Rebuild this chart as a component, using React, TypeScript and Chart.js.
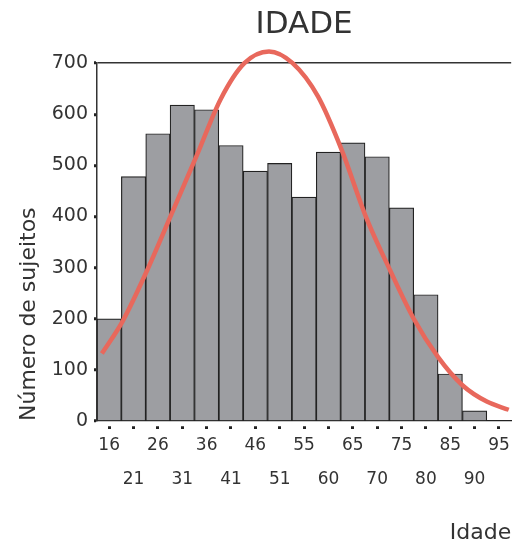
import React, { useEffect, useRef } from "react";
import { Chart, registerables } from "chart.js";

Chart.register(...registerables);

// Age bins (x tick labels)
const ageLabels = ["16", "21", "26", "31", "36", "41", "46", "51", "55", "60", "65", "70", "75", "80", "85", "90", "95"];
// Number of subjects per bin
const counts = [200, 478, 562, 618, 609, 539, 489, 504, 438, 526, 544, 517, 417, 247, 92, 20, 0];
// Fitted normal curve (x in bin units from the left edge)
const curveX = [0.2, 1.05, 2.07, 3.07, 4.1, 5.08, 6.05, 7.06, 8.03, 9.07, 10.03, 11.06, 12.02, 13.0, 14.0, 15.0, 16.0, 16.9];
const curveY = [132, 195, 296, 406, 520, 630, 700, 723, 700, 635, 532, 397, 296, 200, 125, 70, 38, 22];
const yTicks = [0, 100, 200, 300, 400, 500, 600, 700];

const FONT = "'DejaVu Sans', sans-serif";
const TEXT = "#333333";

export default function App() {
  const ref = useRef<HTMLCanvasElement | null>(null);

  useEffect(() => {
    const canvas = ref.current;
    if (!canvas) return;
    const chart = new Chart(canvas, {
      type: "bar",
      data: {
        labels: ageLabels,
        datasets: [
          {
            type: "line",
            data: curveX.map((x, i) => ({ x, y: curveY[i] })),
            xAxisID: "xl",
            yAxisID: "y",
            borderColor: "#e8685c",
            borderWidth: 4.5,
            pointRadius: 0,
            tension: 0.4,
            cubicInterpolationMode: "monotone",
            clip: false,
            order: 0,
          } as any,
          {
            type: "bar",
            data: counts,
            xAxisID: "x",
            yAxisID: "y",
            backgroundColor: "#9d9ea2",
            borderColor: "#222222",
            borderWidth: 1.2,
            barPercentage: 1,
            categoryPercentage: 1,
            grouped: false,
            order: 1,
          } as any,
        ],
      },
      options: {
        responsive: false,
        animation: false,
        plugins: {
          legend: { display: false },
          tooltip: { enabled: false },
          title: {
            display: true,
            text: "IDADE",
            fullSize: false,
            color: TEXT,
            font: { family: FONT, size: 31, weight: "normal", lineHeight: 1.2 },
            padding: { top: 6, bottom: 20 },
          },
        },
        scales: {
          x: {
            type: "category",
            position: "bottom",
            offset: true,
            afterFit: (s: any) => {
              s.height = 123;
            },
            border: { display: true, color: "#222222", width: 1.2 },
            grid: {
              offset: false,
              drawOnChartArea: false,
              tickLength: 8,
              tickWidth: 3,
              tickColor: "#222222",
              tickBorderDash: [0, 5, 3, 100],
            },
            ticks: {
              autoSkip: false,
              maxRotation: 0,
              minRotation: 0,
              padding: 8,
              color: TEXT,
              font: { family: FONT, size: 17, lineHeight: 1 },
              callback: (_v: any, i: number) => (i % 2 === 0 ? ageLabels[i] : ["", "", ageLabels[i]]),
            },
            title: {
              display: true,
              text: "Idade",
              align: "end",
              color: TEXT,
              font: { family: FONT, size: 22, lineHeight: 1 },
              padding: { top: 36, bottom: 0 },
            },
          },
          xl: {
            type: "linear",
            display: false,
            offset: false,
            min: 0,
            max: 17,
            position: "bottom",
          },
          y: {
            type: "linear",
            min: 0,
            max: 700,
            afterFit: (s: any) => {
              s.width = 97;
            },
            afterBuildTicks: (s: any) => {
              s.ticks = yTicks.map((v) => ({ value: v }));
            },
            border: { display: true, color: "#333333", width: 1.5 },
            grid: {
              drawOnChartArea: true,
              color: (c: any) => (c.tick && c.tick.value === 700 ? "#333333" : "rgba(0,0,0,0)"),
              lineWidth: 1.5,
              tickLength: 3,
              tickWidth: 3,
              tickColor: "#222222",
            },
            ticks: {
              padding: 6,
              color: TEXT,
              font: { family: FONT, size: 19 },
            },
            title: {
              display: true,
              text: "Número de sujeitos",
              align: "start",
              color: TEXT,
              font: { family: FONT, size: 22, lineHeight: 1 },
              padding: { top: 18, bottom: 0 },
            },
          },
        },
      } as any,
    });
    return () => chart.destroy();
  }, []);

  return (
    <div style={{ position: "fixed", left: 0, top: 0, width: 518, height: 544, background: "#ffffff" }}>
      <canvas ref={ref} width={518} height={544} style={{ display: "block" }} />
    </div>
  );
}
